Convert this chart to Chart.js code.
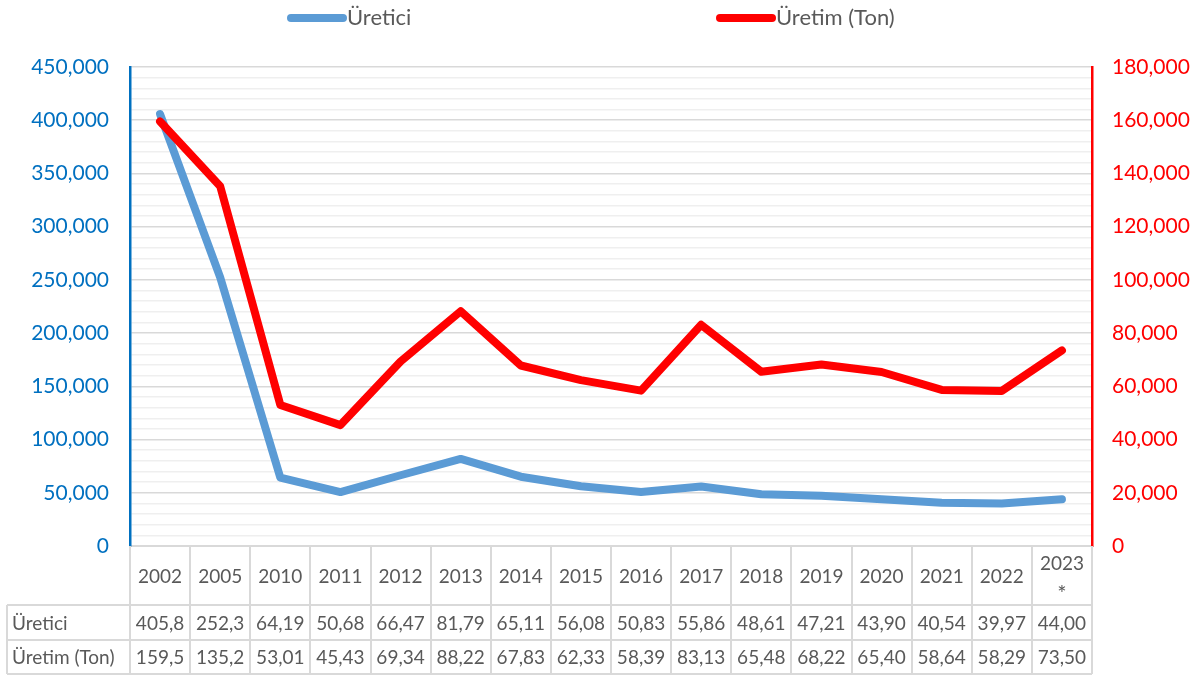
<!DOCTYPE html>
<html>
<head>
<meta charset="utf-8">
<script src="https://cdn.jsdelivr.net/npm/chart.js@4/dist/chart.umd.min.js"></script>
<style>
html,body{margin:0;padding:0;background:#fff;}
#wrap{width:1203px;height:675px;position:relative;}
</style>
</head>
<body>
<div id="wrap"><canvas id="c"></canvas></div>
<script>
const categories = ['2002','2005','2010','2011','2012','2013','2014','2015','2016','2017','2018','2019','2020','2021','2022',['2023','*']];
const ureticiValues = [405800,252300,64190,50680,66470,81790,65110,56080,50830,55860,48610,47210,43900,40540,39970,44000];
const uretimValues = [159500,135200,53010,45430,69340,88220,67830,62330,58390,83130,65480,68220,65400,58640,58290,73500];
const ureticiTableLabels = ['405,8','252,3','64,19','50,68','66,47','81,79','65,11','56,08','50,83','55,86','48,61','47,21','43,90','40,54','39,97','44,00'];
const uretimTableLabels = ['159,5','135,2','53,01','45,43','69,34','88,22','67,83','62,33','58,39','83,13','65,48','68,22','65,40','58,64','58,29','73,50'];
const seriesNames = ['Üretici','Üretim (Ton)'];

const FONT = 'Lato, "Noto Sans", sans-serif';
const TEXT = '#595959';
const GRID = '#D9D9D9';

const tablePlugin = {
  id: 'dataTable',
  afterDraw(chart) {
    const ctx = chart.ctx;
    const x = chart.scales.x;
    const n = categories.length;
    const colW = (x.right - x.left) / n;
    const top = chart.chartArea.bottom;
    const h1 = 59, h2 = 35, h3 = 34;
    const leftEdge = 7;
    const yR1 = top + h1, yR2 = yR1 + h2, yR3 = yR2 + h3;
    ctx.save();
    ctx.strokeStyle = GRID;
    ctx.lineWidth = 2;
    ctx.beginPath();
    for (let i = 0; i <= n; i++) {
      const xx = Math.round(x.left + i * colW);
      ctx.moveTo(xx, top); ctx.lineTo(xx, yR3);
    }
    ctx.moveTo(leftEdge, yR1); ctx.lineTo(leftEdge, yR3);
    [yR1, yR2, yR3].forEach(y => { ctx.moveTo(leftEdge, y); ctx.lineTo(x.right, y); });
    ctx.stroke();
    ctx.fillStyle = TEXT;
    ctx.font = '19px ' + FONT;
    ctx.textBaseline = 'middle';
    ctx.textAlign = 'center';
    categories.forEach((c, i) => {
      const cx = x.getPixelForValue(i);
      if (Array.isArray(c)) {
        ctx.fillText(c[0], cx, top + 18);
        ctx.font = '22px ' + FONT;
        ctx.fillText(c[1], cx, top + 48);
        ctx.font = '19px ' + FONT;
      } else {
        ctx.fillText(c, cx, top + 31);
      }
      ctx.fillText(ureticiTableLabels[i], cx, yR1 + h2 / 2 + 1);
      ctx.fillText(uretimTableLabels[i], cx, yR2 + h3 / 2 + 1);
    });
    ctx.textAlign = 'left';
    ctx.fillText(seriesNames[0], 12, yR1 + h2 / 2 + 1);
    ctx.fillText(seriesNames[1], 12, yR2 + h3 / 2 + 1);
    ctx.restore();
  }
};

const legendPlugin = {
  id: 'customLegend',
  afterDraw(chart) {
    const ctx = chart.ctx;
    const items = [{x: 287, idx: 0}, {x: 716, idx: 1}];
    ctx.save();
    ctx.font = '22px ' + FONT;
    ctx.textBaseline = 'middle';
    ctx.textAlign = 'left';
    items.forEach(it => {
      const ds = chart.data.datasets[it.idx];
      ctx.strokeStyle = ds.borderColor;
      ctx.lineWidth = 8;
      ctx.lineCap = 'round';
      ctx.beginPath();
      ctx.moveTo(it.x + 4, 18); ctx.lineTo(it.x + 56, 18);
      ctx.stroke();
      ctx.fillStyle = TEXT;
      ctx.fillText(ds.label, it.x + 60, 18);
    });
    ctx.restore();
  }
};

new Chart(document.getElementById('c'), {
  type: 'line',
  data: {
    labels: categories,
    datasets: [
      {label: seriesNames[0], data: ureticiValues, yAxisID: 'y', borderColor: '#5B9BD5', backgroundColor: '#5B9BD5', borderWidth: 8, pointRadius: 0, tension: 0, borderJoinStyle: 'round', borderCapStyle: 'round', order: 2},
      {label: seriesNames[1], data: uretimValues, yAxisID: 'y1', borderColor: '#FF0000', backgroundColor: '#FF0000', borderWidth: 8, pointRadius: 0, tension: 0, borderJoinStyle: 'round', borderCapStyle: 'round', order: 1}
    ]
  },
  options: {
    responsive: true,
    maintainAspectRatio: false,
    animation: false,
    events: [],
    layout: {padding: {left: 10, right: 0, top: 67, bottom: 121}},
    plugins: {legend: {display: false}, tooltip: {enabled: false}},
    scales: {
      x: {
        type: 'category',
        offset: true,
        grid: {display: false},
        ticks: {display: false},
        border: {display: true, color: GRID, width: 2}
      },
      y: {
        position: 'left',
        min: 0, max: 450000,
        afterFit: s => { s.width = 120; },
        ticks: {
          stepSize: 10000,
          autoSkip: false,
          color: '#0070C0',
          font: {family: FONT, size: 21},
          padding: 21,
          callback: v => (v % 50000 === 0 ? v.toLocaleString('en-US') : '')
        },
        grid: {
          drawTicks: false,
          color: c => (c.tick && c.tick.value % 50000 === 0 ? GRID : '#EFEFEF'),
          lineWidth: 1.5
        },
        border: {display: true, color: '#0070C0', width: 2.5}
      },
      y1: {
        position: 'right',
        min: 0, max: 180000,
        afterFit: s => { s.width = 111; },
        ticks: {
          stepSize: 20000,
          color: '#FF0000',
          font: {family: FONT, size: 21},
          padding: 20,
          callback: v => v.toLocaleString('en-US')
        },
        grid: {display: false, drawTicks: false},
        border: {display: true, color: '#FF0000', width: 2.5}
      }
    }
  },
  plugins: [tablePlugin, legendPlugin]
});
</script>
</body>
</html>
